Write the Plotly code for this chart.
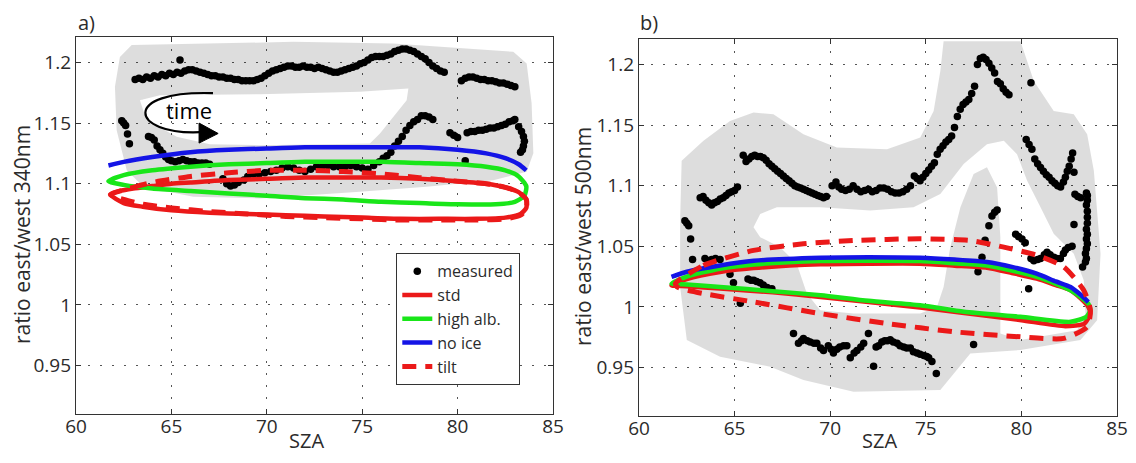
import plotly.graph_objects as go

# ---------------- data: panel a (340 nm) ----------------
meas_a_x = [63.1,63.3,63.5,63.7,63.9,64.1,64.3,64.5,64.7,64.9,65.1,65.3,65.5,65.7,65.9,66.1,66.3,66.5,66.7,66.9,
            67.1,67.3,67.5,67.7,67.9,68.1,68.3,68.5,68.7,68.9,69.1,69.3,69.5,69.7,69.9,70.1,70.3,70.5,70.7,70.9,
            71.1,71.3,71.5,71.7,71.9,72.1,72.3,72.5,72.7,72.9,73.1,73.3,73.5,73.7,73.9,74.1,74.3,74.5,74.7,74.9,
            75.1,75.3,75.5,75.7,75.9,76.1,76.3,76.5,76.7,76.9,77.1,77.3,77.5,77.7,77.9,78.1,78.3,78.5,78.7,78.9,
            79.1,79.3,
            80.2,80.4,80.6,80.8,81.0,81.2,81.4,81.6,81.8,82.0,82.2,82.4,82.6,82.8,83.0,
            65.45,
            62.4,62.5,62.6,62.7,62.8,
            63.8,63.95,64.1,64.25,64.4,64.55,64.7,64.85,65.0,65.2,65.4,65.6,65.8,66.0,66.2,66.4,66.6,66.8,67.0,
            67.7,67.9,68.1,68.3,68.5,
            68.8,69.0,69.3,69.6,69.9,70.2,70.5,70.8,71.1,71.4,71.7,72.0,72.3,72.6,72.9,73.2,73.5,73.8,74.1,74.4,
            74.7,75.0,75.3,75.6,75.9,76.1,76.3,76.5,76.7,76.9,77.1,77.3,77.5,77.7,77.9,78.1,78.3,78.5,78.7,
            79.6,79.8,80.0,80.4,80.5,80.7,80.9,81.1,81.3,81.5,81.7,81.9,82.1,82.3,82.5,82.7,82.9,83.0,83.2,83.35,
            83.45,83.5,83.45,83.4,83.3]
meas_a_y = [1.186,1.187,1.186,1.188,1.187,1.189,1.188,1.190,1.189,1.191,1.190,1.192,1.191,1.193,1.194,1.194,1.193,1.192,1.191,1.190,
            1.189,1.189,1.188,1.188,1.187,1.187,1.186,1.186,1.185,1.185,1.185,1.185,1.186,1.187,1.189,1.191,1.193,1.194,1.195,1.196,
            1.197,1.197,1.196,1.196,1.197,1.196,1.196,1.195,1.196,1.195,1.194,1.193,1.192,1.192,1.193,1.194,1.195,1.196,1.197,1.199,
            1.200,1.202,1.204,1.205,1.205,1.205,1.206,1.207,1.209,1.210,1.211,1.211,1.210,1.209,1.207,1.205,1.203,1.200,1.197,1.195,
            1.193,1.192,
            1.185,1.187,1.188,1.188,1.187,1.186,1.186,1.185,1.185,1.184,1.183,1.183,1.182,1.181,1.180,
            1.202,
            1.152,1.150,1.148,1.141,1.133,
            1.139,1.138,1.136,1.131,1.128,1.125,1.122,1.120,1.119,1.118,1.119,1.120,1.119,1.118,1.118,1.117,1.117,1.117,1.116,
            1.104,1.100,1.098,1.099,1.101,
            1.103,1.106,1.108,1.108,1.109,1.110,1.111,1.113,1.114,1.113,1.111,1.110,1.112,1.114,1.114,1.115,1.114,1.114,1.114,1.115,
            1.114,1.113,1.112,1.115,1.118,1.121,1.123,1.126,1.131,1.135,1.139,1.144,1.148,1.151,1.153,1.156,1.156,1.155,1.153,
            1.142,1.140,1.138,1.119,1.142,1.143,1.143,1.144,1.144,1.145,1.146,1.146,1.147,1.148,1.149,1.151,1.152,1.153,1.147,1.143,
            1.139,1.135,1.131,1.128,1.126]

std_a_x = [61.8,62.3,63,64,65,66,68,70,72,74,76,78,80,81.5,82.5,83.2,83.6,83.6,83.3,82.5,81,79,77,75,73,71,69,67,65,63.5,62.5,61.8]
std_a_y = [1.091,1.094,1.096,1.098,1.100,1.101,1.103,1.104,1.105,1.105,1.105,1.104,1.102,1.100,1.097,1.093,1.087,1.080,1.075,1.072,
           1.071,1.071,1.071,1.072,1.073,1.074,1.075,1.076,1.078,1.081,1.084,1.091]
alb_a_x = [61.7,62.5,64,66,68,70,72,74,76,78,80,81.5,82.5,83.2,83.6,83.5,83,82,80,78,76,74,72,70,68,66,64,62.5,61.7]
alb_a_y = [1.102,1.107,1.111,1.114,1.116,1.117,1.118,1.118,1.118,1.117,1.116,1.114,1.111,1.106,1.098,1.090,1.085,1.083,1.083,1.084,
           1.085,1.087,1.088,1.090,1.092,1.094,1.096,1.099,1.102]
noice_a_x = [61.7,62.5,64,66,68,70,72,74,76,78,80,81.5,82.5,83.2,83.6]
noice_a_y = [1.115,1.118,1.122,1.126,1.128,1.129,1.130,1.130,1.130,1.130,1.128,1.125,1.121,1.116,1.111]
tilt_a_x = [61.8,63,64,66,68,70,72,74,76,78,80,81.5,82.5,83.2,83.6,83.6,83.3,82.5,81,79,77,75,73,71,69,67,65,63.5,62.5,61.8]
tilt_a_y = [1.091,1.097,1.101,1.106,1.109,1.111,1.111,1.110,1.108,1.105,1.102,1.100,1.097,1.093,1.087,1.079,1.074,1.071,1.070,1.070,
            1.070,1.071,1.072,1.073,1.075,1.077,1.080,1.083,1.087,1.091]

shade_a_outer_x = [62.92,71.39,76.63,82.92,83.62,83.88,83.97,83.62,81.87,78.38,74.88,69.64,66.15,63.53,62.66,62.13,62.04,62.3]
shade_a_outer_y = [1.2143,1.217,1.2157,1.2088,1.1992,1.1663,1.125,1.1099,1.1029,1.0974,1.0933,1.0878,1.0892,1.0974,1.1111,1.1441,1.1799,1.2046]
shade_a_hole_x = [63.35,64.4,69.64,74.88,77.42,77.33,76.63,75.93,75.4,69.64,67.02,65.28,63.7]
shade_a_hole_y = [1.1689,1.173,1.1738,1.1758,1.1785,1.1689,1.1551,1.1414,1.1332,1.1318,1.1326,1.1387,1.1524]

# ---------------- data: panel b (500 nm) ----------------
meas_b_x = [62.4,62.5,62.6,62.7,62.8,
            63.2,63.35,63.5,63.65,63.8,63.95,64.1,64.25,64.4,64.55,64.7,64.85,65.0,65.15,
            65.45,65.6,65.75,65.9,66.05,66.2,66.35,66.5,66.65,66.8,66.95,67.1,67.25,67.4,67.55,67.7,67.85,68.0,68.15,68.3,
            68.45,68.6,68.75,68.9,69.05,69.2,69.35,69.5,69.65,69.8,
            70.1,70.3,70.45,70.6,70.8,71.0,71.2,71.4,71.6,71.8,72.0,72.2,72.4,72.6,72.8,73.0,73.2,73.4,73.6,73.8,
            74.0,74.2,74.4,74.55,74.7,74.85,75.0,75.15,75.3,75.45,75.6,75.75,75.9,76.05,76.2,76.35,76.5,76.65,76.8,76.95,
            77.1,77.25,77.4,77.55,77.7,77.85,78.0,78.15,78.3,78.45,78.6,78.75,78.9,79.05,79.2,79.35,
            80.5,
            80.25,80.4,80.55,80.7,80.85,81.0,81.15,81.3,81.45,81.6,81.75,81.9,82.05,82.2,82.3,82.4,82.5,82.6,82.68,82.75,
            82.8,82.95,83.1,83.4,83.45,83.45,83.4,83.45,83.45,83.45,83.4,83.45,83.4,83.45,83.4,83.35,83.4,83.35,83.2,82.75,
            63.45,63.65,63.8,64.0,64.24,64.76,64.94,65.3,65.7,65.85,66.0,66.15,66.33,66.5,66.7,66.95,
            68.08,68.34,68.5,68.6,68.8,68.95,69.15,69.3,69.5,69.65,69.9,70.05,70.17,70.35,70.5,70.7,70.87,71.05,71.25,71.4,
            71.6,71.75,72.0,72.27,72.4,72.53,72.7,72.85,73.0,73.14,73.3,73.5,73.65,73.84,74.0,74.19,74.35,74.54,74.7,74.9,
            75.05,75.15,75.32,75.55,
            77.5,77.73,77.94,78.1,78.3,78.46,78.6,78.73,
            79.7,79.85,80.03,80.2,80.38,80.5,80.65,80.85,81.0,81.2,81.34,81.5,81.7,81.85,82.04,82.2,82.3,82.45,82.65]
meas_b_y = [1.071,1.069,1.067,1.056,1.039,
            1.090,1.091,1.088,1.086,1.084,1.086,1.087,1.089,1.090,1.092,1.094,1.095,1.096,1.099,
            1.125,1.120,1.122,1.124,1.125,1.124,1.124,1.123,1.121,1.118,1.116,1.114,1.112,1.110,1.108,1.106,1.104,1.102,1.100,1.099,
            1.098,1.097,1.096,1.095,1.094,1.093,1.092,1.091,1.090,1.091,
            1.100,1.103,1.099,1.097,1.096,1.097,1.100,1.097,1.095,1.096,1.097,1.095,1.096,1.098,1.098,1.097,1.095,1.094,1.094,1.095,
            1.097,1.100,1.108,1.106,1.104,1.107,1.110,1.113,1.116,1.119,1.126,1.130,1.133,1.136,1.138,1.141,1.148,1.157,1.163,1.167,
            1.169,1.171,1.176,1.182,1.200,1.205,1.206,1.204,1.201,1.197,1.193,1.186,1.184,1.180,1.177,1.175,
            1.185,
            1.138,1.134,1.130,1.122,1.118,1.115,1.112,1.109,1.107,1.104,1.102,1.100,1.099,1.103,1.107,1.112,1.116,1.122,1.127,1.111,
            1.093,1.091,1.090,1.094,1.092,1.088,1.084,1.079,1.074,1.069,1.064,1.060,1.056,1.052,1.048,1.044,1.040,1.037,1.033,1.068,
            1.040,1.038,1.039,1.040,1.039,1.027,1.020,1.003,1.023,1.022,1.022,1.021,1.020,1.018,1.016,1.015,
            0.978,0.970,0.972,0.974,0.972,0.971,0.970,0.970,0.966,0.964,0.968,0.965,0.962,0.965,0.967,0.968,0.968,0.958,0.962,0.964,
            0.967,0.970,0.978,0.951,0.967,0.968,0.971,0.972,0.972,0.973,0.971,0.970,0.968,0.967,0.966,0.966,0.963,0.962,0.961,0.960,
            0.959,0.958,0.955,0.945,
            0.969,1.029,1.041,1.055,1.067,1.075,1.078,1.080,
            1.060,1.058,1.056,1.053,1.015,1.040,1.038,1.039,1.040,1.043,1.045,1.043,1.041,1.040,1.040,1.044,1.047,1.049,1.050]

std_b_x = [61.7,62.5,64.24,66,69.5,72,74.7,76.5,78.2,79.5,80.8,81.8,82.57,83.1,83.5,83.6,83.3,82.3,80,77,74.7,72,69.5,67,64.24,62.5,61.7]
std_b_y = [1.0178,1.023,1.0288,1.032,1.0351,1.0356,1.0356,1.034,1.0323,1.028,1.0233,1.018,1.0137,1.007,1.000,0.9945,0.9863,0.9841,
           0.989,0.995,0.9995,1.004,1.0082,1.012,1.0151,1.017,1.0178]
alb_b_x = [61.7,62.5,64.24,66,69.5,72,74.7,76.5,78.2,79.5,80.8,81.8,82.57,83.1,83.5,83.6,83.4,82.57,79.95,77,74.7,72,69.5,67,64.24,62.5,61.7]
alb_b_y = [1.0192,1.025,1.0315,1.035,1.0378,1.038,1.0378,1.036,1.0342,1.030,1.0247,1.019,1.0137,1.008,1.0027,0.9973,0.9918,0.9877,
           0.9918,0.996,1.0014,1.005,1.0096,1.013,1.0164,1.0185,1.0192]
noice_b_x = [61.7,62.5,64.24,66,69.5,72,74.7,76.5,78.2,79.5,80.8,81.8,82.57,83.1,83.5]
noice_b_y = [1.0247,1.029,1.0342,1.038,1.0405,1.041,1.0405,1.039,1.037,1.033,1.0274,1.021,1.0164,1.010,1.004]
tilt_b_x = [61.9,63.37,65.99,68.6,71.22,74.71,77.33,79.08,80.82,82.22,83.26,83.61,83.44,82.22,79.95,76.46,72.97,69.48,65.99,63.37,62.0,61.9]
tilt_b_y = [1.0192,1.0342,1.0466,1.052,1.0548,1.0562,1.0548,1.0493,1.0425,1.0329,1.0137,0.9973,0.9836,0.974,0.9753,0.9795,0.9863,
            0.9945,1.0041,1.011,1.0164,1.0192]

shade_b_outer_x = [62.23,63.37,64.76,65.99,67.03,68.6,70.35,72.97,74.71,75.41,75.76,75.93,79.95,80.65,81.69,82.74,83.44,83.79,84.14,
                   83.96,83.09,79.95,77.33,75.76,71.22,68.6,66.86,64.24,62.5,62.15,62.15]
shade_b_outer_y = [1.1205,1.137,1.1534,1.1603,1.1589,1.1425,1.1315,1.1301,1.1397,1.1616,1.1945,1.2192,1.2192,1.1863,1.1616,1.1589,
                   1.1425,1.1123,1.0438,0.989,0.9726,0.9644,0.9616,0.9315,0.9301,0.9397,0.9507,0.9589,0.9726,1.0164,1.0712]
shade_b_hole_x = [65.99,66.34,67.21,69.48,72.09,74.36,75.76,76.98,78.2,79.08,79.77,80.3,81.0,81.69,82.74,83.26,83.35,82.91,79.95,
                  78.9,78.9,78.9,78.73,78.2,77.5,76.81,76.28,75.93,75.58,74.71,71.22,69.48,68.78,68.25,67.38,66.34]
shade_b_hole_y = [1.0658,1.0767,1.0822,1.0822,1.0795,1.0822,1.0932,1.1178,1.1342,1.137,1.126,1.1041,1.0822,1.0603,1.0438,1.0219,
                  0.9945,0.9808,0.9726,0.9781,1.0164,1.0575,1.0986,1.1151,1.1096,1.0822,1.0493,1.0164,1.0,0.9945,0.9945,0.9973,
                  1.011,1.0356,1.0493,1.0575]

# "time" arrow (panel a), data coords
time_arc_x = [67.18, 62.306, 62.83, 66.50]
time_arc_y = [1.1747, 1.17715, 1.14003, 1.1425]
time_head_x = [67.45, 66.45, 66.45]
time_head_y = [1.1414, 1.1500, 1.1335]
time_label_xy = (65.9, 1.1606)

x_ticks = [60, 65, 70, 75, 80, 85]
y_ticks = [0.95, 1.0, 1.05, 1.1, 1.15, 1.2]
y_ticktext = ["0.95", "1", "1.05", "1.1", "1.15", "1.2"]

RED = "rgb(235,25,25)"
GREEN = "rgb(25,230,25)"
BLUE = "rgb(20,20,230)"
SHADE = "rgba(0,0,0,0.135)"
FONT = "Open Sans"
TXT = "#2b2b2b"

# the page body has an 8 px margin, so the figure is placed 8 px in from the corner
OFF = 8
W, H = 1120, 447


def px_x(x):  # window pixel -> paper fraction
    return (x - OFF) / W


def px_y(y):
    return 1 - (y - OFF) / H


def signed_area(xs, ys):
    s = 0.0
    n = len(xs)
    for i in range(n):
        j = (i + 1) % n
        s += xs[i] * ys[j] - xs[j] * ys[i]
    return s


def keyhole(ox, oy, hx, hy):
    hx, hy = list(hx), list(hy)
    if (signed_area(ox, oy) > 0) == (signed_area(hx, hy) > 0):
        hx, hy = hx[::-1], hy[::-1]
    x = list(ox) + [ox[0]] + hx + [hx[0]] + [ox[0]]
    y = list(oy) + [oy[0]] + hy + [hy[0]] + [oy[0]]
    return x, y


fig = go.Figure()

panels = [
    dict(xa="x", ya="y", shade=(shade_a_outer_x, shade_a_outer_y, shade_a_hole_x, shade_a_hole_y),
         meas=(meas_a_x, meas_a_y), std=(std_a_x, std_a_y), alb=(alb_a_x, alb_a_y),
         noice=(noice_a_x, noice_a_y), tilt=(tilt_a_x, tilt_a_y), legend=True),
    dict(xa="x2", ya="y2", shade=(shade_b_outer_x, shade_b_outer_y, shade_b_hole_x, shade_b_hole_y),
         meas=(meas_b_x, meas_b_y), std=(std_b_x, std_b_y), alb=(alb_b_x, alb_b_y),
         noice=(noice_b_x, noice_b_y), tilt=(tilt_b_x, tilt_b_y), legend=False),
]

LW = 4.5
for p in panels:
    sx, sy = keyhole(*p["shade"])
    fig.add_trace(go.Scatter(x=sx, y=sy, mode="lines", fill="toself", fillcolor=SHADE,
                             line=dict(width=0, color="rgba(0,0,0,0)"), hoverinfo="skip",
                             showlegend=False, xaxis=p["xa"], yaxis=p["ya"]))
    fig.add_trace(go.Scatter(x=p["meas"][0], y=p["meas"][1], mode="markers", name="measured",
                             marker=dict(color="black", size=7.5), showlegend=p["legend"],
                             xaxis=p["xa"], yaxis=p["ya"]))
    fig.add_trace(go.Scatter(x=p["std"][0], y=p["std"][1], mode="lines", name="std",
                             line=dict(color=RED, width=LW, shape="spline", smoothing=0.6),
                             showlegend=p["legend"], xaxis=p["xa"], yaxis=p["ya"]))
    fig.add_trace(go.Scatter(x=p["alb"][0], y=p["alb"][1], mode="lines", name="high alb.",
                             line=dict(color=GREEN, width=LW, shape="spline", smoothing=0.6),
                             showlegend=p["legend"], xaxis=p["xa"], yaxis=p["ya"]))
    fig.add_trace(go.Scatter(x=p["noice"][0], y=p["noice"][1], mode="lines", name="no ice",
                             line=dict(color=BLUE, width=LW, shape="spline", smoothing=0.6),
                             showlegend=p["legend"], xaxis=p["xa"], yaxis=p["ya"]))
    fig.add_trace(go.Scatter(x=p["tilt"][0], y=p["tilt"][1], mode="lines", name="tilt",
                             line=dict(color=RED, width=LW + 0.5, dash="14px,9px", shape="spline", smoothing=0.6),
                             showlegend=p["legend"], xaxis=p["xa"], yaxis=p["ya"]))

# curved "time" arrow
ax_, ay_ = time_arc_x, time_arc_y
fig.add_shape(type="path", xref="x", yref="y",
              path=f"M {ax_[0]},{ay_[0]} C {ax_[1]},{ay_[1]} {ax_[2]},{ay_[2]} {ax_[3]},{ay_[3]}",
              line=dict(color="black", width=2.2))
fig.add_shape(type="path", xref="x", yref="y",
              path=f"M {time_head_x[0]},{time_head_y[0]} L {time_head_x[1]},{time_head_y[1]} L {time_head_x[2]},{time_head_y[2]} Z",
              fillcolor="black", line=dict(color="black", width=1))
fig.add_annotation(x=time_label_xy[0], y=time_label_xy[1], xref="x", yref="y", text="time", showarrow=False,
                   font=dict(family=FONT, size=22, color="black"))

axis_common = dict(showline=True, linecolor="#333333", linewidth=1.3, mirror="ticks", ticks="inside",
                   ticklen=5, tickcolor="#333333", showgrid=True, gridcolor="#555555", gridwidth=1,
                   griddash="2px,10px", zeroline=False, automargin=False,
                   tickfont=dict(family=FONT, size=19, color=TXT))
xaxis_extra = dict(ticklabelstandoff=-5)

fig.update_layout(
    width=W, height=H, margin=dict(l=0, r=0, t=0, b=0, autoexpand=False),
    paper_bgcolor="white", plot_bgcolor="white",
    font=dict(family=FONT, color=TXT),
    xaxis=dict(domain=[px_x(76), px_x(553)], range=[60, 85], tickvals=x_ticks, anchor="y",
               **axis_common, **xaxis_extra),
    yaxis=dict(domain=[px_y(414), px_y(37)], range=[0.91, 1.221], tickvals=y_ticks, ticktext=y_ticktext,
               anchor="x", **axis_common),
    xaxis2=dict(domain=[px_x(639), px_x(1117)], range=[60, 85], tickvals=x_ticks, anchor="y2",
                **axis_common, **xaxis_extra),
    yaxis2=dict(domain=[px_y(416), px_y(39)], range=[0.91, 1.221], tickvals=y_ticks, ticktext=y_ticktext,
                anchor="x2", **axis_common),
    legend=dict(x=px_x(396), y=px_y(253), xanchor="left", yanchor="top", bgcolor="white",
                bordercolor="#333333", borderwidth=1.3, font=dict(family=FONT, size=16, color=TXT),
                itemwidth=30, tracegroupgap=0),
    showlegend=True,
)

for txt, x, y, rot, size, ya in [("a)", 86, 8, 0, 20, "top"), ("b)", 649, 8, 0, 20, "top"),
                                 ("SZA", 306, 455, 0, 20, "bottom"), ("SZA", 879, 455, 0, 20, "bottom"),
                                 ("ratio east/west 340nm", 22, 235, -90, 21, "middle"),
                                 ("ratio east/west 500nm", 583, 237, -90, 21, "middle")]:
    fig.add_annotation(x=px_x(x), y=px_y(y), xref="paper", yref="paper", text=txt, showarrow=False,
                       textangle=rot, font=dict(family=FONT, size=size, color=TXT),
                       xanchor="center", yanchor=ya, borderpad=0)

fig.write_html("out.html")
